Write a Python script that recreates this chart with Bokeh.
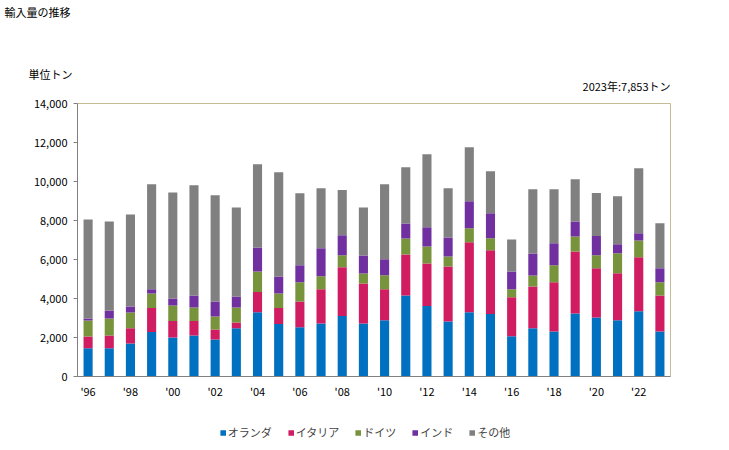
from bokeh.plotting import figure
from bokeh.layouts import column
from bokeh.models import ColumnDataSource, Label, Legend, LegendItem, FixedTicker, NumeralTickFormatter
from bokeh.embed import file_html
from bokeh.resources import INLINE

years = list(range(1996, 2024))
netherlands = [1455, 1455, 1690, 2280, 2000, 2100, 1900, 2480, 3300, 2690, 2520, 2720, 3100, 2720,
               2890, 4160, 3610, 2820, 3300, 3200, 2070, 2480, 2310, 3230, 3030, 2890, 3340, 2310]
italy = [600, 650, 790, 1230, 840, 740, 510, 290, 1030, 820, 1330, 1750, 2500, 2050,
         1580, 2100, 2190, 2820, 3580, 3270, 1990, 2140, 2520, 3180, 2520, 2400, 2770, 1850]
germany = [820, 870, 800, 750, 800, 700, 670, 770, 1060, 750, 980, 670, 620, 510,
           720, 820, 870, 520, 720, 620, 410, 560, 870, 770, 670, 1030, 870, 670]
india = [100, 410, 310, 210, 360, 620, 770, 560, 1230, 870, 870, 1440, 1030, 930,
         820, 770, 980, 970, 1390, 1280, 920, 1130, 1130, 770, 980, 460, 360, 720]
others = [5080, 4570, 4720, 5390, 5440, 5650, 5440, 4570, 4260, 5340, 3700, 3080, 2310, 2460,
          3850, 2880, 3750, 2520, 2770, 2160, 1640, 3290, 2770, 2160, 2210, 2460, 3340, 2303]
series_names = ["オランダ", "イタリア", "ドイツ", "インド", "その他"]
colors = ["#0070C0", "#D01D62", "#77933C", "#7030A0", "#808080"]
tick_years = list(range(1996, 2024, 2))
tick_labels = ["'96", "'98", "'00", "'02", "'04", "'06", "'08", "'10", "'12", "'14", "'16", "'18", "'20", "'22"]
y_ticks = list(range(0, 14001, 2000))

FONT = "Noto Sans CJK JP"
keys = ["nl", "it", "de", "in", "ot"]
data = dict(year=years, nl=netherlands, it=italy, de=germany, ot=others, **{"in": india})
source = ColumnDataSource(data)

W = 729
HEAD_H, MAIN_H, LEG_H = 96, 318, 36

def blank(height):
    f = figure(width=W, height=height, output_backend="svg", toolbar_location=None,
               x_range=(0, 1), y_range=(0, 1), x_axis_type=None, y_axis_type=None,
               min_border_left=0, min_border_right=0, min_border_top=0, min_border_bottom=0)
    f.frame_align = False
    f.grid.visible = False
    f.outline_line_color = None
    f.background_fill_color = "white"
    f.border_fill_color = "white"
    return f

# ---- header with texts (screen units: x from left, y from bottom of this strip)
head = blank(HEAD_H)
def add_label(text, x, y_from_top, size="11px", align="left"):
    head.add_layout(Label(x=x, y=HEAD_H - y_from_top, x_units="screen", y_units="screen", text=text,
                          text_font=FONT, text_font_size=size, text_color="#000000",
                          text_align=align, text_baseline="middle"))
add_label("輸入量の推移", 4, 11, size="11px")
add_label("単位トン", 28, 73)
add_label("2023年:7,853トン", 670, 85, align="right")

# ---- main chart
p = figure(width=W, height=MAIN_H, output_backend="svg", toolbar_location=None,
           x_range=(1995.5, 2023.5), y_range=(0, 14000),
           min_border_left=77, min_border_right=59, min_border_top=7, min_border_bottom=38)
p.title = None
p.grid.visible = False
p.background_fill_color = "white"
p.border_fill_color = "white"
p.outline_line_color = "#C4BC96"
p.outline_line_width = 1

p.vbar_stack(keys, x="year", width=0.43, color=colors, source=source, line_width=0)

p.xaxis.ticker = FixedTicker(ticks=tick_years)
p.xaxis.major_label_overrides = {y: l for y, l in zip(tick_years, tick_labels)}
p.xaxis.major_tick_line_color = None
p.xaxis.minor_tick_line_color = None
p.xaxis.axis_line_color = "#808080"
p.xaxis.major_label_standoff = 0
p.xaxis.major_label_text_font = FONT
p.xaxis.major_label_text_font_size = "11px"
p.xaxis.major_label_text_color = "#000000"

p.yaxis.ticker = FixedTicker(ticks=y_ticks)
p.yaxis.formatter = NumeralTickFormatter(format="0,0")
p.yaxis.axis_line_color = "#808080"
p.yaxis.major_tick_line_color = "#808080"
p.yaxis.major_tick_out = 4
p.yaxis.major_tick_in = 0
p.yaxis.minor_tick_line_color = None
p.yaxis.major_label_standoff = 6
p.yaxis.major_label_text_font = FONT
p.yaxis.major_label_text_font_size = "11px"
p.yaxis.major_label_text_color = "#000000"

# ---- legend strip (its renderers share the data; years fall outside this strip's range)
leg = blank(LEG_H)
leg_renderers = leg.vbar_stack(keys, x="year", width=0.43, color=colors, source=source, line_width=0)
legend = Legend(items=[LegendItem(label=n, renderers=[r]) for n, r in zip(series_names, leg_renderers)],
                orientation="horizontal", location="center",
                glyph_width=7, glyph_height=7, label_standoff=2, spacing=15,
                padding=0, margin=0, border_line_color=None, background_fill_alpha=0,
                label_text_font=FONT, label_text_font_size="11px", label_height=14)
leg.add_layout(legend, "center")

layout = column(head, p, leg, spacing=0)
open("out.html", "w").write(file_html(layout, INLINE))
